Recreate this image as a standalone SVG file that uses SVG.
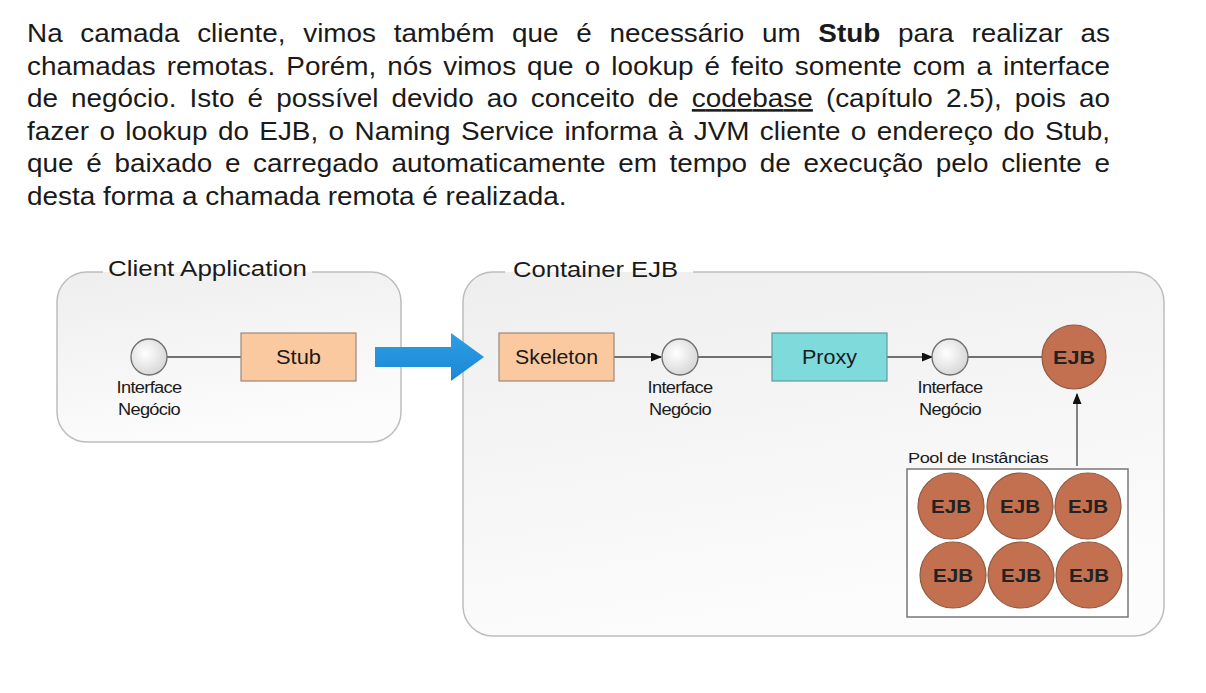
<svg xmlns="http://www.w3.org/2000/svg" width="1206" height="693" viewBox="0 0 1206 693">
<style>
.t{font-family:"Liberation Sans",Arial,sans-serif;fill:#1a1a1a}
.title{font-size:22.5px}
.box{font-size:19.5px;text-anchor:middle}
.small{font-size:16px;text-anchor:middle;letter-spacing:-0.6px}
.ejbt{font-size:17.5px;font-weight:bold;text-anchor:middle;fill:#222}
.border{fill:none;stroke:#bdbdbd;stroke-width:1.5}
.conn{stroke:#444;stroke-width:1.3;fill:none}
.iface{fill:url(#gIface);stroke:#6e6e6e;stroke-width:1.3}
.peach{fill:#fbc9a0;stroke:#9e8877;stroke-width:1.2}
.teal{fill:#7fdadc;stroke:#5c9c9c;stroke-width:1.2}
.ejb{fill:#c2704f;stroke:#8e5a43;stroke-width:1.2}
</style>
<defs>
<linearGradient id="gBox" x1="0" y1="0" x2="0.3" y2="1">
<stop offset="0" stop-color="#eeeeee"/>
<stop offset="1" stop-color="#fcfcfc"/>
</linearGradient>
<radialGradient id="gIface" cx="0.4" cy="0.4" r="0.65">
<stop offset="0" stop-color="#ffffff"/>
<stop offset="1" stop-color="#d6d6d6"/>
</radialGradient>
<linearGradient id="gBlue" x1="0" y1="0" x2="0" y2="1">
<stop offset="0" stop-color="#2e9fe6"/>
<stop offset="1" stop-color="#1a86d2"/>
</linearGradient>
<marker id="arr" markerUnits="userSpaceOnUse" markerWidth="11" markerHeight="9" refX="10" refY="4.5" orient="auto">
<path d="M0,0 L11,4.5 L0,9 z" fill="#111"/>
</marker>
</defs>
<rect width="1206" height="693" fill="#ffffff"/>

<g id="paragraph" class="t" transform="scale(1.09,1)" font-size="25.6">
<text x="24.77" y="42" word-spacing="9.07" textLength="993.6" lengthAdjust="spacing">Na camada cliente, vimos também que é necessário um <tspan font-weight="bold">Stub</tspan> para realizar as</text>
<text x="24.77" y="74.6" word-spacing="2.99" textLength="993.6" lengthAdjust="spacing">chamadas remotas. Porém, nós vimos que o lookup é feito somente com a interface</text>
<text x="24.77" y="107.2" word-spacing="4.86" textLength="993.6" lengthAdjust="spacing">de negócio. Isto é possível devido ao conceito de <tspan text-decoration="underline">codebase</tspan> (capítulo 2.5), pois ao</text>
<text x="24.77" y="139.8" word-spacing="2.41" textLength="993.6" lengthAdjust="spacing">fazer o lookup do EJB, o Naming Service informa à JVM cliente o endereço do Stub,</text>
<text x="24.77" y="172.4" word-spacing="4.54" textLength="993.6" lengthAdjust="spacing">que é baixado e carregado automaticamente em tempo de execução pelo cliente e</text>
<text x="24.77" y="205">desta forma a chamada remota é realizada.</text>
</g>

<g id="client-application">
<rect x="57" y="272" width="344" height="170" rx="30" fill="url(#gBox)"/>
<path class="border" d="M312,272 H371 A30,30 0 0 1 401,302 V412 A30,30 0 0 1 371,442 H87 A30,30 0 0 1 57,412 V302 A30,30 0 0 1 87,272 H103"/>
<text class="t title" x="108" y="276" textLength="199" lengthAdjust="spacingAndGlyphs">Client Application</text>
</g>

<g id="container-ejb">
<rect x="463" y="272" width="701" height="364" rx="30" fill="url(#gBox)"/>
<path class="border" d="M693,272 H1134 A30,30 0 0 1 1164,302 V606 A30,30 0 0 1 1134,636 H493 A30,30 0 0 1 463,606 V302 A30,30 0 0 1 493,272 H505"/>
<text class="t title" x="513" y="277" textLength="165" lengthAdjust="spacingAndGlyphs">Container EJB</text>
</g>

<g id="connectors">
<line class="conn" x1="167" y1="357" x2="241" y2="357"/>
<polygon points="375,347 451,347 451,333 484,357 451,381 451,367 375,367" fill="url(#gBlue)"/>
<line class="conn" x1="614" y1="357" x2="661" y2="357" stroke="#111" marker-end="url(#arr)"/>
<line class="conn" x1="698" y1="357" x2="772" y2="357"/>
<line class="conn" x1="887" y1="357" x2="932" y2="357" stroke="#111" marker-end="url(#arr)"/>
<line class="conn" x1="968" y1="357" x2="1042" y2="357"/>
<line class="conn" x1="1077" y1="466" x2="1077" y2="394" stroke="#111" marker-end="url(#arr)"/>
</g>

<g id="iface-client">
<circle class="iface" cx="149" cy="357" r="18"/>
<text class="t small" x="149" y="392.5" textLength="65" lengthAdjust="spacingAndGlyphs">Interface</text>
<text class="t small" x="149" y="415" textLength="62" lengthAdjust="spacingAndGlyphs">Negócio</text>
</g>

<g id="stub">
<rect class="peach" x="241" y="333" width="115" height="48"/>
<text class="t box" x="298.5" y="364" textLength="45" lengthAdjust="spacingAndGlyphs">Stub</text>
</g>

<g id="skeleton">
<rect class="peach" x="499" y="333" width="115" height="48"/>
<text class="t box" x="556.5" y="364" textLength="83" lengthAdjust="spacingAndGlyphs">Skeleton</text>
</g>

<g id="iface-1">
<circle class="iface" cx="680" cy="357" r="18"/>
<text class="t small" x="680" y="392.5" textLength="65" lengthAdjust="spacingAndGlyphs">Interface</text>
<text class="t small" x="680" y="415" textLength="62" lengthAdjust="spacingAndGlyphs">Negócio</text>
</g>

<g id="proxy">
<rect class="teal" x="772" y="333" width="115" height="48"/>
<text class="t box" x="829.5" y="364" textLength="55" lengthAdjust="spacingAndGlyphs">Proxy</text>
</g>

<g id="iface-2">
<circle class="iface" cx="950" cy="357" r="18"/>
<text class="t small" x="950" y="392.5" textLength="65" lengthAdjust="spacingAndGlyphs">Interface</text>
<text class="t small" x="950" y="415" textLength="62" lengthAdjust="spacingAndGlyphs">Negócio</text>
</g>

<g id="ejb-main">
<circle class="ejb" cx="1074" cy="357" r="32"/>
<text class="t ejbt" x="1074" y="363.5" textLength="42" lengthAdjust="spacingAndGlyphs">EJB</text>
</g>

<g id="pool">
<text class="t" x="908" y="463" font-size="15.5" letter-spacing="-0.4" textLength="140" lengthAdjust="spacingAndGlyphs">Pool de Instâncias</text>
<rect x="907" y="469" width="221" height="148" fill="#ffffff" stroke="#777" stroke-width="1.5"/>
<circle class="ejb" cx="951" cy="506" r="33"/>
<text class="t ejbt" x="951" y="512.5" textLength="40" lengthAdjust="spacingAndGlyphs">EJB</text>
<circle class="ejb" cx="1020" cy="506" r="33"/>
<text class="t ejbt" x="1020" y="512.5" textLength="40" lengthAdjust="spacingAndGlyphs">EJB</text>
<circle class="ejb" cx="1088" cy="506" r="33"/>
<text class="t ejbt" x="1088" y="512.5" textLength="40" lengthAdjust="spacingAndGlyphs">EJB</text>
<circle class="ejb" cx="953" cy="575" r="33"/>
<text class="t ejbt" x="953" y="581.5" textLength="40" lengthAdjust="spacingAndGlyphs">EJB</text>
<circle class="ejb" cx="1021" cy="575" r="33"/>
<text class="t ejbt" x="1021" y="581.5" textLength="40" lengthAdjust="spacingAndGlyphs">EJB</text>
<circle class="ejb" cx="1089" cy="575" r="33"/>
<text class="t ejbt" x="1089" y="581.5" textLength="40" lengthAdjust="spacingAndGlyphs">EJB</text>
</g>
</svg>
